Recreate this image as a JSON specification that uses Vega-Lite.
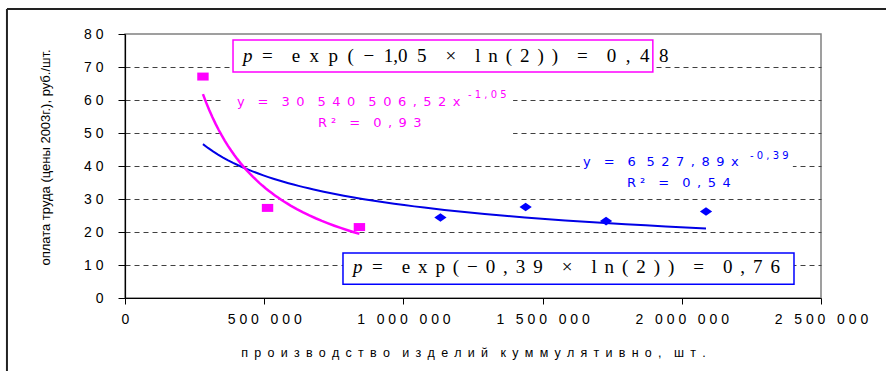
{
  "$schema": "https://vega.github.io/schema/vega-lite/v6.json",
  "width": 696,
  "height": 264,
  "autosize": {"type": "none"},
  "padding": {"left": 125, "top": 34, "right": 65, "bottom": 73},
  "background": "white",
  "config": {
    "view": {"stroke": "#808080", "strokeWidth": 1.5},
    "font": "Liberation Sans"
  },
  "datasets": {
    "pts": [
      {"x": 280000, "y": 67.1, "grp": "early"},
      {"x": 512000, "y": 27.3, "grp": "early"},
      {"x": 842000, "y": 21.5, "grp": "early"},
      {"x": 1133000, "y": 24.4, "grp": "late"},
      {"x": 1439000, "y": 27.6, "grp": "late"},
      {"x": 1728000, "y": 23.3, "grp": "late"},
      {"x": 2087000, "y": 26.2, "grp": "late"}
    ],
    "frame": [
      {"x": -424000, "x2": 2800000, "y": 87.6, "y2": 87.6},
      {"x": -424000, "x2": -424000, "y": 87.6, "y2": -25}
    ],
    "labelbg": [
      {"x": 345000, "x2": 1394000, "y": 63.6, "y2": 49.1},
      {"x": 1634000, "x2": 2399000, "y": 44.8, "y2": 31.5}
    ],
    "boxes": [
      {"fit": "early", "x": 388000, "x2": 1896000, "y": 78.2, "y2": 68.5},
      {"fit": "all", "x": 783000, "x2": 2403000, "y": 13.6, "y2": 4.2}
    ],
    "notes": [
      {"fit": "early", "part": "eq", "x": 402000, "y": 59.4, "label": "y\u2002\u2002=\u2002\u20023\u20020\u2002\u20025\u20024\u20020\u2002\u20025\u20020\u20026\u2002,\u20025\u20022\u2002x"},
      {"fit": "early", "part": "sup", "x": 1232000, "y": 61.5, "label": "-\u00a01\u00a0,\u00a00\u00a05"},
      {"fit": "early", "part": "r2", "x": 693000, "y": 53.0, "label": "R\u00a0²\u2002\u2002=\u2002\u20020\u2002,\u20029\u20023"},
      {"fit": "all", "part": "eq", "x": 1645000, "y": 41.2, "label": "y\u2002\u2002=\u2002\u20026\u2002\u00a05\u20022\u20027\u2002,\u20028\u20029\u2002x"},
      {"fit": "all", "part": "sup", "x": 2245000, "y": 43.0, "label": "-\u00a00\u00a0,\u00a03\u00a09"},
      {"fit": "all", "part": "r2", "x": 1803000, "y": 34.85, "label": "R\u00a0²\u2002\u2002=\u2002\u20020\u2002,\u20025\u20024"},
      {"fit": "early", "part": "p", "x": 424000, "y": 73.3, "label": "p"},
      {"fit": "early", "part": "rest", "x": 492000, "y": 73.3, "label": "=\u2003e\u2002x\u2002p\u2002(\u2002−\u20021,0\u20025\u2003×\u2003l\u2005\u2006n\u2005\u2006(\u2005\u20062\u2005\u2006)\u2005\u2006)\u2003=\u20030\u2002,\u20024\u20028"},
      {"fit": "all", "part": "p", "x": 819000, "y": 9.4, "label": "p"},
      {"fit": "all", "part": "rest", "x": 887000, "y": 9.4, "label": "=\u2003e\u2005\u2006x\u2005\u2006p\u2005\u2006(\u2005\u2006−\u2005\u20060\u2005\u2006,\u2005\u20063\u2005\u20069\u2003×\u2003l\u2005\u2006n\u2005\u2006(\u2005\u20062\u2005\u2006)\u2005\u2006)\u2003=\u20030\u2005\u2006,\u2005\u20067\u2005\u20066"}
    ]
  },
  "encoding": {
    "x": {
      "field": "x",
      "type": "quantitative",
      "scale": {"domain": [0, 2500000], "nice": false, "zero": false},
      "axis": {
        "values": [0, 500000, 1000000, 1500000, 2000000, 2500000],
        "labelExpr": "replace(replace(format(datum.value, ','), /(\\d)(?=\\d)/g, '$1\u00a0'), /,/g, '\u00a0\u00a0\u00a0')",
        "labelFont": "Liberation Sans",
        "labelFontSize": 14,
        "labelColor": "#000000",
        "labelPadding": 8,
        "labelOverlap": false,
        "labelFlush": false,
        "tickColor": "#000000",
        "tickSize": 6,
        "domainColor": "#000000",
        "domainWidth": 1.2,
        "grid": false,
        "title": "п\u2002р\u2002о\u2002и\u2002з\u2002в\u2002о\u2002д\u2002с\u2002т\u2002в\u2002о\u2002\u2002и\u2002з\u2002д\u2002е\u2002л\u2002и\u2002й\u2002\u2002к\u2002у\u2002м\u2002м\u2002у\u2002л\u2002я\u2002т\u2002и\u2002в\u2002н\u2002о\u2002,\u2002\u2002ш\u2002т\u2002.",
        "titleFont": "Liberation Sans",
        "titleFontSize": 12.5,
        "titleFontWeight": "normal",
        "titleColor": "#000000",
        "titleBaseline": "middle",
        "titleY": 54
      }
    },
    "y": {
      "field": "y",
      "type": "quantitative",
      "scale": {"domain": [0, 80], "nice": false},
      "axis": {
        "values": [0, 10, 20, 30, 40, 50, 60, 70, 80],
        "labelExpr": "replace(datum.label, /(\\d)(?=\\d)/g, '$1\u00a0')",
        "labelFont": "Liberation Sans",
        "labelFontSize": 14,
        "labelColor": "#000000",
        "labelPadding": 15,
        "labelFlush": false,
        "tickColor": "#000000",
        "tickSize": 7,
        "domainColor": "#000000",
        "domainWidth": 1.2,
        "grid": true,
        "gridColor": "#404040",
        "gridDash": [5, 4],
        "gridWidth": 1,
        "gridOpacity": {"condition": {"test": "datum.value === 0 || datum.value === 80", "value": 0}, "value": 1},
        "title": "оплата труда (цены 2003г.), руб./шт.",
        "titleFont": "Liberation Sans",
        "titleFontSize": 13,
        "titleFontWeight": "normal",
        "titleColor": "#000000",
        "titleAngle": 270,
        "titleAlign": "center",
        "titleBaseline": "middle",
        "titleX": -80,
        "titleY": 123
      }
    }
  },
  "layer": [
    {
      "data": {"name": "labelbg"},
      "mark": {"type": "rect", "fill": "white", "stroke": null},
      "encoding": {"x2": {"field": "x2"}, "y2": {"field": "y2"}}
    },
    {
      "data": {"name": "frame"},
      "mark": {"type": "rule", "color": "#222222", "strokeWidth": 2},
      "encoding": {"x2": {"field": "x2"}, "y2": {"field": "y2"}}
    },
    {
      "data": {"name": "pts"},
      "transform": [{"regression": "y", "on": "x", "method": "pow"}],
      "mark": {"type": "line", "color": "#0000E6", "strokeWidth": 2},
      "encoding": {}
    },
    {
      "data": {"name": "pts"},
      "transform": [{"filter": "datum.grp === 'early'"}, {"regression": "y", "on": "x", "method": "pow"}],
      "mark": {"type": "line", "color": "#FF00FF", "strokeWidth": 2.5},
      "encoding": {}
    },
    {
      "data": {"name": "pts"},
      "transform": [{"filter": "datum.grp === 'late'"}],
      "mark": {"type": "point", "shape": "M-1,0L0,-0.7L1,0L0,0.7Z", "size": 150, "filled": true, "color": "#0000FF", "opacity": 1},
      "encoding": {}
    },
    {
      "data": {"name": "pts"},
      "transform": [{"filter": "datum.grp === 'early'"}],
      "mark": {"type": "point", "shape": "M-1,-0.7L1,-0.7L1,0.7L-1,0.7Z", "size": 130, "filled": true, "color": "#FF00FF", "opacity": 1},
      "encoding": {}
    },
    {
      "data": {"name": "boxes"},
      "mark": {"type": "rect", "fill": "white", "strokeWidth": 1.5},
      "encoding": {
        "x2": {"field": "x2"},
        "y2": {"field": "y2"},
        "stroke": {"field": "fit", "type": "nominal", "scale": {"domain": ["early", "all"], "range": ["#FF00FF", "#0000FF"]}, "legend": null}
      }
    },
    {
      "data": {"name": "notes"},
      "transform": [{"filter": "datum.part === 'eq' || datum.part === 'r2'"}],
      "mark": {"type": "text", "font": "DejaVu Sans", "fontSize": 13, "align": "left", "baseline": "middle"},
      "encoding": {
        "text": {"field": "label"},
        "color": {"field": "fit", "type": "nominal", "scale": {"domain": ["early", "all"], "range": ["#FF00FF", "#0000FF"]}, "legend": null}
      }
    },
    {
      "data": {"name": "notes"},
      "transform": [{"filter": "datum.part === 'sup'"}],
      "mark": {"type": "text", "font": "DejaVu Sans", "fontSize": 10, "align": "left", "baseline": "middle"},
      "encoding": {
        "text": {"field": "label"},
        "color": {"field": "fit", "type": "nominal", "scale": {"domain": ["early", "all"], "range": ["#FF00FF", "#0000FF"]}, "legend": null}
      }
    },
    {
      "data": {"name": "notes"},
      "transform": [{"filter": "datum.part === 'p'"}],
      "mark": {"type": "text", "font": "Liberation Serif", "fontSize": 19, "fontStyle": "italic", "align": "left", "baseline": "middle", "color": "#000000"},
      "encoding": {"text": {"field": "label"}}
    },
    {
      "data": {"name": "notes"},
      "transform": [{"filter": "datum.part === 'rest'"}],
      "mark": {"type": "text", "font": "Liberation Serif", "fontSize": 19, "align": "left", "baseline": "middle", "color": "#000000"},
      "encoding": {"text": {"field": "label"}}
    }
  ]
}
